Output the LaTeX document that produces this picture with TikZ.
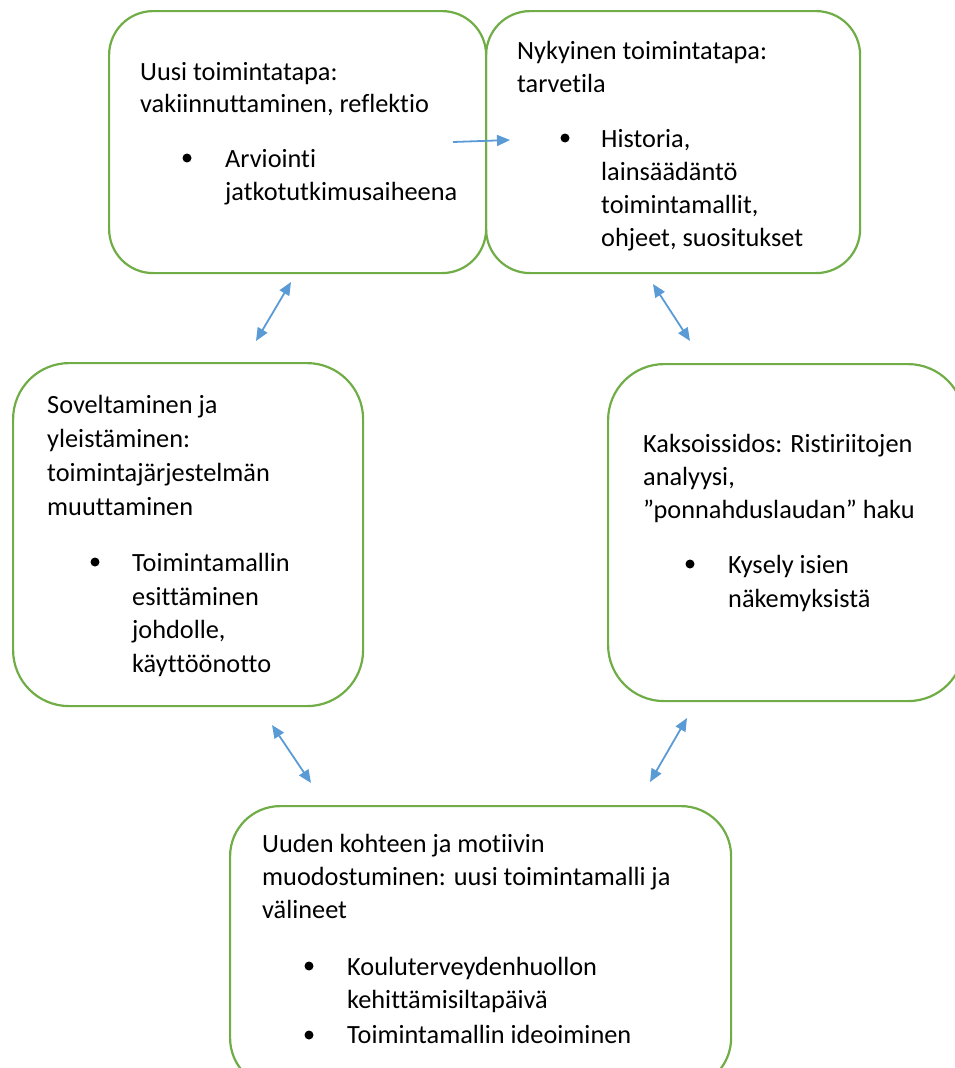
\documentclass[tikz,border=0pt]{standalone}
\usepackage{fontspec}
\setmainfont{Carlito}[Ligatures=NoCommon]
\usetikzlibrary{arrows.meta}
\definecolor{boxgreen}{HTML}{70AD47}
\definecolor{arrblue}{HTML}{5B9BD5}
\begin{document}
\begin{tikzpicture}[x=1pt,y=-1pt,
  stagebox/.style={draw=boxgreen, line width=2.2pt, rounded corners=#1, inner sep=0pt, anchor=north west},
  txt/.style={anchor=base west, inner sep=0pt, font=\fontsize{26.3}{33}\selectfont},
  bul/.style={circle, fill=black, inner sep=0pt, minimum size=9pt},
  onearrow/.style={draw=arrblue, line width=1.8pt, -{Triangle[length=13pt,width=11pt]}},
  twoarrow/.style={draw=arrblue, line width=1.8pt, {Triangle[length=13pt,width=11pt]}-{Triangle[length=13pt,width=11pt]}}]
\useasboundingbox (0,0) rectangle (955,1068);
\clip (0,0) rectangle (955,1068);
% boxes
\node[stagebox=44pt, minimum width=377pt, minimum height=262pt] (tl) at (108,10) {};
\node[stagebox=44pt, minimum width=374pt, minimum height=262pt] (tr) at (485,10) {};
\node[stagebox=56pt, minimum width=350pt, minimum height=343pt] (lb) at (12,362) {};
\node[stagebox=56pt, minimum width=356pt, minimum height=337pt] (rb) at (607,363) {};
\node[stagebox=50pt, minimum width=501pt, minimum height=282pt] (bb) at (229,805) {};
% top-left text
\node[txt] (tl1) at (140,80) {Uusi toimintatapa:};
\node[txt] (tl2) at (140,112) {vakiinnuttaminen, reflektio};
\node[bul] (tlb) at (187,158) {};
\node[txt] (tl3) at (225,167) {Arviointi};
\node[txt] (tl4) at (225,200) {jatkotutkimusaiheena};
% top-right text
\node[txt] (tr1) at (517,59) {Nykyinen toimintatapa:};
\node[txt] (tr2) at (517,92) {tarvetila};
\node[bul] (trb) at (565,138) {};
\node[txt] (tr3) at (601,147) {Historia,};
\node[txt] (tr4) at (601,180) {lainsäädäntö};
\node[txt] (tr5) at (601,213) {toimintamallit,};
\begin{scope}
\clip (487,100) rectangle (857,251);
\node[txt] (tr6) at (601,246) {ohjeet, suositukset};
\end{scope}
% left text
\node[txt] (l1) at (47,413) {Soveltaminen ja};
\node[txt] (l2) at (47,447) {yleistäminen:};
\node[txt] (l3) at (47,481) {toimintajärjestelmän};
\node[txt] (l4) at (47,515) {muuttaminen};
\node[bul] (lbb) at (95,562) {};
\node[txt] (l5) at (132,571) {Toimintamallin};
\node[txt] (l6) at (132,605) {esittäminen};
\node[txt] (l7) at (132,638) {johdolle,};
\node[txt] (l8) at (132,672) {käyttöönotto};
% right text
\node[txt] (r1) at (643,452) {Kaksoissidos: Ristiriitojen};
\node[txt] (r2) at (643,485) {analyysi,};
\node[txt] (r3) at (643,518) {”ponnahduslaudan” haku};
\node[bul] (rbb) at (690,564) {};
\node[txt] (r4) at (728,573) {Kysely isien};
\node[txt] (r5) at (728,607) {näkemyksistä};
% bottom text
\node[txt] (b1) at (262,852) {Uuden kohteen ja motiivin};
\node[txt] (b2) at (262,885) {muodostuminen: uusi toimintamalli ja};
\node[txt] (b3) at (262,918) {välineet};
\node[bul] (bbb1) at (309,966) {};
\node[txt] (b4) at (347,975) {Kouluterveydenhuollon};
\node[txt] (b5) at (347,1008) {kehittämisiltapäivä};
\node[bul] (bbb2) at (309,1035) {};
\node[txt] (b6) at (347,1043) {Toimintamallin ideoiminen};
% arrows
\coordinate (a1s) at (453,142);
\coordinate (a1e) at (510,140);
\coordinate (a2s) at (256,341);
\coordinate (a2e) at (291,282);
\coordinate (a3s) at (653,284);
\coordinate (a3e) at (690,341);
\coordinate (a4s) at (272,725);
\coordinate (a4e) at (311,783);
\coordinate (a5s) at (650,782);
\coordinate (a5e) at (687,718);
\draw[onearrow] (a1s) -- (a1e);
\draw[twoarrow] (a2s) -- (a2e);
\draw[twoarrow] (a3s) -- (a3e);
\draw[twoarrow] (a4s) -- (a4e);
\draw[twoarrow] (a5s) -- (a5e);
\end{tikzpicture}
\end{document}
